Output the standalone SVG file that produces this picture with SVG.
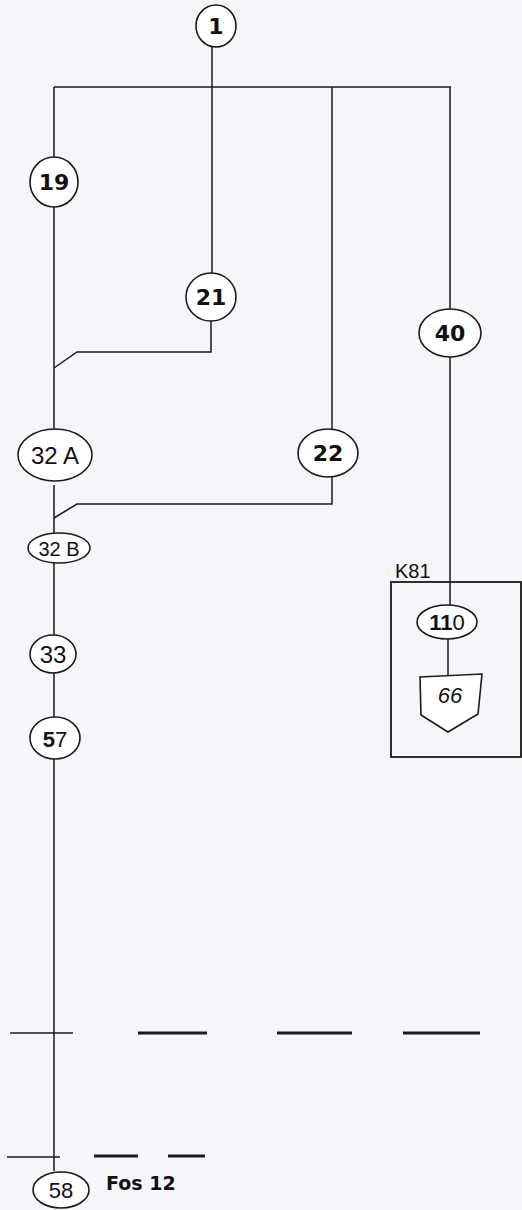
<svg xmlns="http://www.w3.org/2000/svg" width="522" height="1210" viewBox="0 0 522 1210">
<style>
.bg{fill:#f4f6f9}
.n{fill:#ffffff;stroke:#1a1a1a;stroke-width:1.6}
.c{fill:none;stroke:#1a1a1a;stroke-width:1.5}
.d{fill:none;stroke:#1a1a1a;stroke-width:2.8}
.tb{font-family:"DejaVu Sans",sans-serif;font-weight:bold;font-size:22px;fill:#111;text-anchor:middle}
.tn{font-family:"Liberation Sans",sans-serif;font-size:22px;fill:#111;text-anchor:middle}
.box{fill:none;stroke:#1a1a1a;stroke-width:1.8}
</style>
<rect class="bg" x="0" y="0" width="522" height="1210"/>
<g id="connectors">
<path class="c" d="M54,87 H451"/>
<path class="c" d="M212,47 V273"/>
<path class="c" d="M54,87 V157"/>
<path class="c" d="M54,206 V430"/>
<path class="c" d="M211,320 V352 H77 L54,368"/>
<path class="c" d="M332,87 V429"/>
<path class="c" d="M332,476 V504 H77 L54,518"/>
<path class="c" d="M54,485 V533"/>
<path class="c" d="M54,562 V636"/>
<path class="c" d="M54,672 V718"/>
<path class="c" d="M54,759 V1171"/>
<path class="c" d="M450,87 V309"/>
<path class="c" d="M450,357 V606"/>
<path class="c" d="M448,638 V675"/>
<path class="c" d="M10,1033 H73"/>
<path class="c" d="M7,1157 H60"/>
<path class="d" d="M138,1033 H207 M277,1033 H352 M403,1033 H480"/>
<path class="d" d="M94,1156 H138 M168,1156 H205"/>
</g>
<g id="node-1"><ellipse class="n" cx="216" cy="26" rx="20" ry="21"/><text class="tb" x="216" y="34">1</text></g>
<g id="node-19"><ellipse class="n" cx="54" cy="182" rx="24" ry="25"/><text class="tb" x="54" y="190">19</text></g>
<g id="node-21"><ellipse class="n" cx="211" cy="297" rx="25" ry="24"/><text class="tb" x="211" y="305">21</text></g>
<g id="node-40"><ellipse class="n" cx="450" cy="333" rx="31" ry="24"/><text class="tb" x="450" y="341">40</text></g>
<g id="node-22"><ellipse class="n" cx="328" cy="453" rx="30" ry="24"/><text class="tb" x="328" y="461">22</text></g>
<g id="node-32A"><ellipse class="n" cx="55" cy="455" rx="37" ry="26"/><text class="tn" x="55" y="464" style="font-size:24px">32 A</text></g>
<g id="node-32B"><ellipse class="n" cx="59" cy="548" rx="31" ry="15"/><text class="tn" x="59" y="556" style="font-size:20px">32 B</text></g>
<g id="node-33"><ellipse class="n" cx="53" cy="654" rx="23" ry="19"/><text class="tn" x="53" y="663" style="font-size:24px">33</text></g>
<g id="node-57"><ellipse class="n" cx="55" cy="738" rx="25" ry="21"/><text class="tn" x="55" y="747"><tspan style="font-weight:bold">5</tspan>7</text></g>
<g id="group-K81"><rect class="box" x="391" y="582" width="130" height="175"/><text class="tn" x="395" y="578" style="text-anchor:start;font-size:20px">K81</text></g>
<g id="node-110"><ellipse class="n" cx="447" cy="622" rx="30" ry="17"/><text class="tn" x="447" y="630"><tspan style="font-weight:bold">11</tspan>0</text></g>
<g id="node-66"><path class="n" d="M420,677 L482,674 L478,714 L448,732 L421,715 Z"/><text class="tn" x="450" y="703" style="font-style:italic">66</text></g>
<g id="node-58"><ellipse class="n" cx="61" cy="1190" rx="28" ry="18"/><text class="tn" x="61" y="1198">58</text></g>
<text class="tb" x="106" y="1190" style="text-anchor:start;font-size:19px">Fos 12</text>
</svg>
